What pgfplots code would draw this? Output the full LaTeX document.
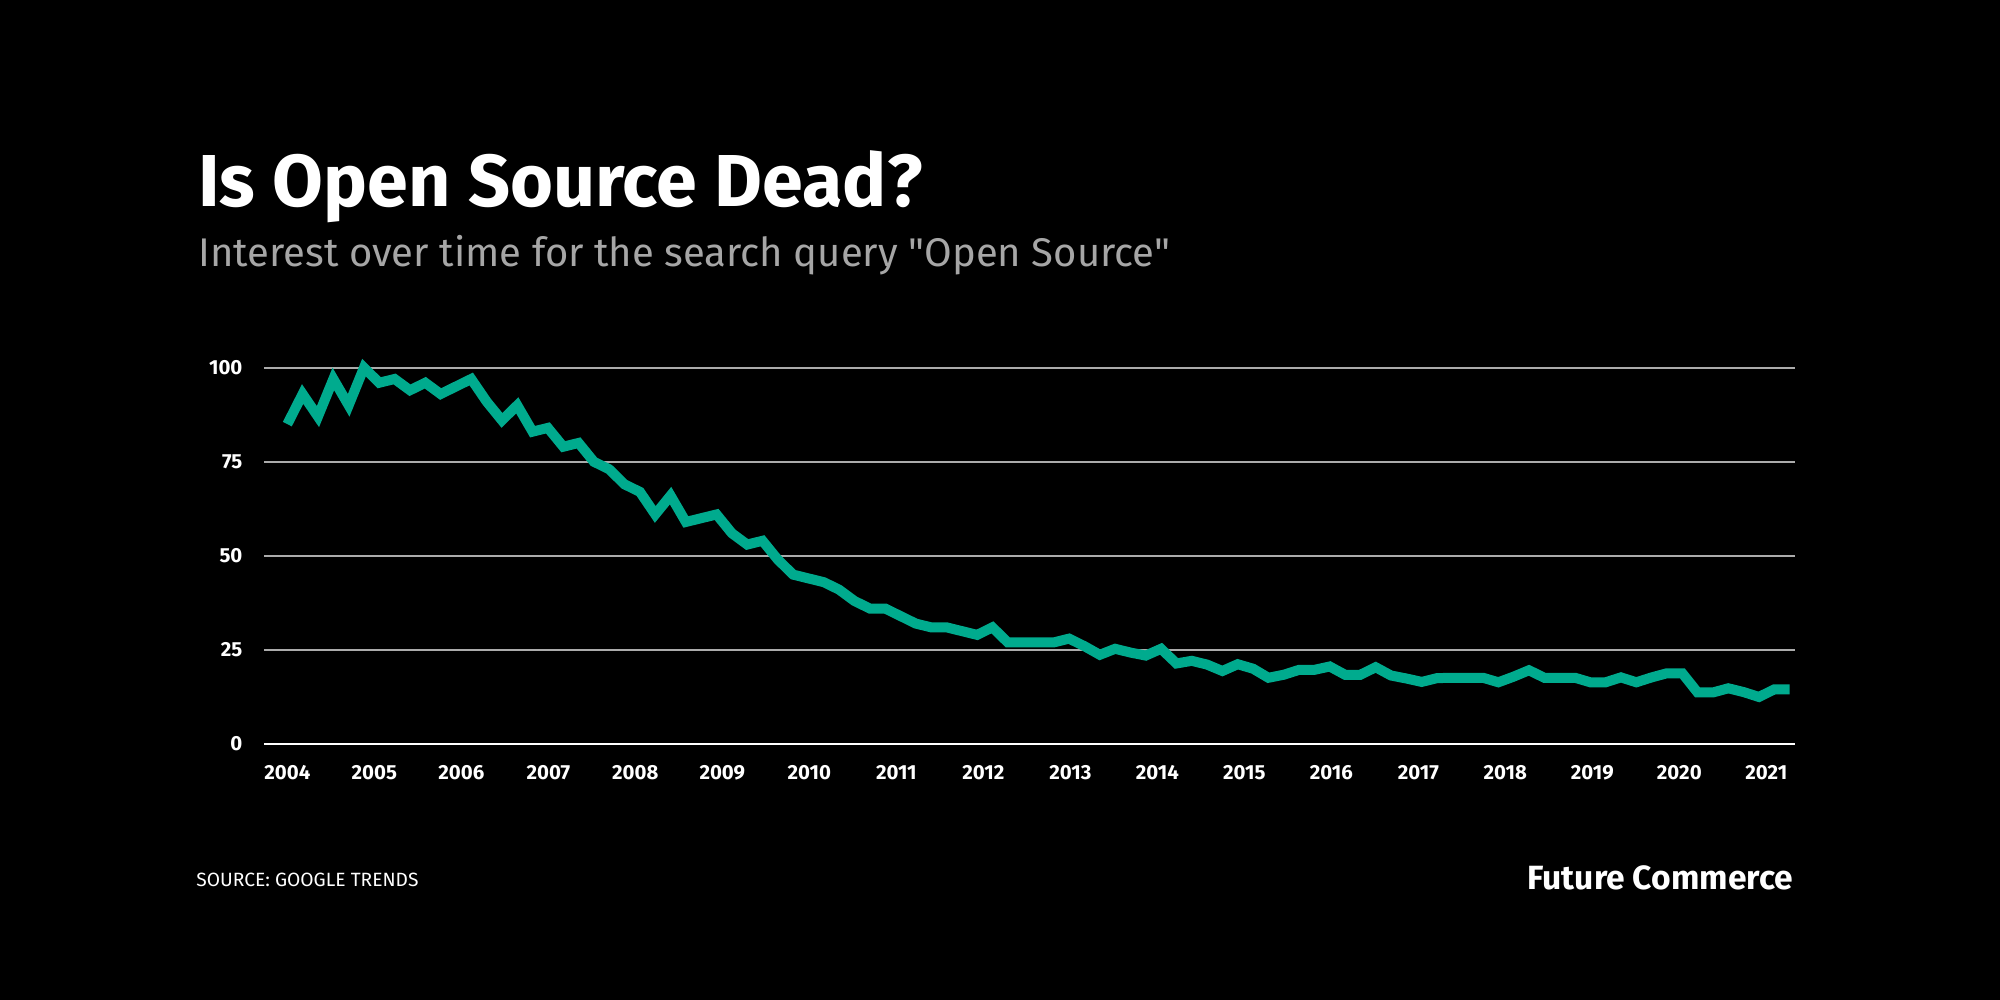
\documentclass[border=0pt]{standalone}
\usepackage{fontspec}
\setmainfont{Fira Sans}
\newfontfamily\subfont{Fira Sans}[Ligatures=TeXOff]
\usepackage{pgfplots}
\pgfplotsset{compat=1.18}
\usepackage{pgfplotstable}
\definecolor{teal1}{HTML}{00AB8E}
\definecolor{grid1}{HTML}{ABABAB}
\definecolor{sub1}{HTML}{A6A6A6}
\pgfplotstableread{
x y
2004.000 85
2004.176 93
2004.352 87
2004.529 97
2004.705 90
2004.881 100
2005.057 96
2005.233 97
2005.410 94
2005.586 96
2005.762 93
2005.938 95
2006.114 97
2006.291 91
2006.467 86
2006.643 90
2006.819 83
2006.995 84
2007.172 79
2007.348 80
2007.524 75
2007.700 73
2007.876 69
2008.053 67
2008.229 61
2008.405 66
2008.581 59
2008.757 60
2008.934 61
2009.110 56
2009.286 53
2009.462 54
2009.638 49
2009.815 45
2009.991 44
2010.167 43
2010.343 41
2010.519 38
2010.696 36
2010.872 36
2011.048 34
2011.224 32
2011.400 31
2011.577 31
2011.753 30
2011.929 29
2012.105 31
2012.281 27
2012.458 27
2012.634 27
2012.810 27
2012.986 28
2013.162 26
2013.339 23.7
2013.515 25.3
2013.691 24.3
2013.867 23.5
2014.043 25.3
2014.220 21.4
2014.396 22.1
2014.572 21.1
2014.748 19.4
2014.924 21.2
2015.101 20
2015.277 17.6
2015.453 18.4
2015.629 19.7
2015.805 19.7
2015.982 20.6
2016.158 18.4
2016.334 18.4
2016.510 20.4
2016.686 18.2
2016.863 17.4
2017.039 16.5
2017.215 17.5
2017.391 17.6
2017.567 17.6
2017.744 17.6
2017.920 16.4
2018.096 17.9
2018.272 19.6
2018.448 17.6
2018.625 17.6
2018.801 17.6
2018.977 16.4
2019.153 16.4
2019.329 17.7
2019.506 16.4
2019.682 17.7
2019.858 18.8
2020.034 18.8
2020.210 13.7
2020.387 13.7
2020.563 14.8
2020.739 13.8
2020.915 12.5
2021.091 14.5
2021.268 14.5
}\datatable
\begin{document}
\begin{tikzpicture}[x=1pt,y=1pt]
\fill[black] (0,0) rectangle (1000,500);
\node[anchor=base west, inner sep=0, text=white, font=\fontsize{36.8}{40}\selectfont\bfseries] at (99,396.5) {Is Open Source Dead?};
\node[anchor=base west, inner sep=0, text=sub1, font=\subfont\fontsize{20}{24}\selectfont] at (99,366.7) {Interest over time for the search query "Open Source"};
\node[anchor=base west, inner sep=0, text=white, font=\fontsize{9.6}{11}\selectfont] at (98,56.8) {SOURCE: GOOGLE TRENDS};
\node[anchor=base east, inner sep=0, text=white, font=\fontsize{16.8}{19}\selectfont\bfseries] at (896.7,55) {Future Commerce};
\begin{axis}[
  at={(132pt,128pt)}, anchor=south west,
  scale only axis, width=765.5pt, height=188.15pt,
  xmin=2003.732, xmax=2021.33, ymin=0, ymax=100,
  axis line style={draw=none},
  major tick length=0pt,
  xtick={2004,2005,...,2021},
  ytick={25,50,75,100},
  extra y ticks={0},
  extra y tick style={major grid style={white, line width=1pt}},
  ymajorgrids,
  grid style={grid1, line width=1pt},
  major grid style={grid1, line width=1pt},
  /pgf/number format/assume math mode=true,
  /pgf/number format/1000 sep={},
  tick label style={text=white, font=\fontsize{10.2}{12}\selectfont\bfseries, inner sep=0pt},
  yticklabel style={anchor=east, xshift=-10.6pt},
  xticklabel style={anchor=north, yshift=-10.5pt},
  clip=false,
]
\addplot[teal1, line width=5pt, line join=miter, miter limit=10] table[x=x, y=y] {\datatable};
\end{axis}
\end{tikzpicture}
\end{document}
